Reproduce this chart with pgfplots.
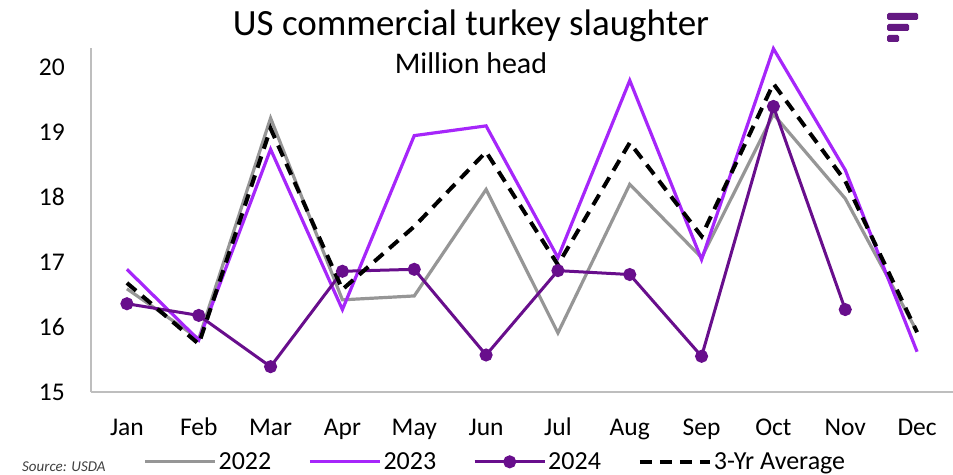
\documentclass[border=0pt]{standalone}
\usepackage{pgfplots}
\pgfplotsset{compat=1.18}
\usepackage{fontspec}
\setmainfont{Carlito}
\definecolor{c22}{RGB}{150,150,150}
\definecolor{c23}{RGB}{166,38,250}
\definecolor{c24}{RGB}{104,14,140}
\definecolor{logo}{RGB}{100,25,130}
\definecolor{axgray}{RGB}{190,190,190}
\begin{document}
\begin{tikzpicture}[x=1bp,y=1bp]
\begin{axis}[
  at={(91bp,83bp)}, anchor=south west,
  width=862bp, height=344bp, scale only axis,
  xmin=-0.5, xmax=11.5, ymin=15, ymax=20.3,
  clip=false,
  axis x line*=bottom, axis y line*=left,
  axis line style={draw=axgray, line width=1.5bp, -},
  xtick={0,...,11},
  xticklabels={Jan,Feb,Mar,Apr,May,Jun,Jul,Aug,Sep,Oct,Nov,Dec},
  ytick={15,16,17,18,19,20},
  major tick length=0pt, tick style={draw=none},
  /pgf/number format/assume math mode=true,
  xticklabel style={font=\fontsize{25.5bp}{28bp}\selectfont, anchor=base, inner sep=0pt, yshift=-43bp},
  yticklabel style={font=\fontsize{25.5bp}{28bp}\selectfont, anchor=east, inner sep=0pt, xshift=-26bp},
  legend columns=4,
  legend cell align=left,
  legend style={at={(0.469,-0.203)}, anchor=center, draw=none, fill=none,
    font=\fontsize{26bp}{28bp}\selectfont,
    /tikz/every even column/.append style={column sep=35bp}},
  legend image code/.code={\draw[mark repeat=2,mark phase=2,#1] plot coordinates {(0bp,0bp) (35bp,0bp) (70bp,0bp)};},
]
\addplot[c22, line width=3.2bp, no markers] coordinates {
(0,16.59) (1,15.82) (2,19.22) (3,16.42) (4,16.48) (5,18.12) (6,15.91) (7,18.20) (8,17.07) (9,19.28) (10,17.98) (11,15.93)};
\addlegendentry{2022}
\addplot[c23, line width=3.2bp, no markers] coordinates {
(0,16.89) (1,15.80) (2,18.74) (3,16.27) (4,18.95) (5,19.10) (6,17.07) (7,19.80) (8,17.04) (9,20.29) (10,18.42) (11,15.62)};
\addlegendentry{2023}
\addplot[c24, line width=3bp, mark=*, mark size=5bp, mark options={fill=c24, draw=c24}] coordinates {
(0,16.36) (1,16.18) (2,15.39) (3,16.86) (4,16.89) (5,15.57) (6,16.87) (7,16.81) (8,15.55) (9,19.40) (10,16.27)};
\addlegendentry{2024}
\addplot[black, line width=4bp, dash pattern=on 12bp off 8bp, no markers] coordinates {
(0,16.68) (1,15.74) (2,19.06) (3,16.58) (4,17.55) (5,18.70) (6,16.96) (7,18.84) (8,17.40) (9,19.75) (10,18.25) (11,15.92)};
\addlegendentry{3-Yr Average}
\end{axis}
\node[anchor=base, inner sep=0pt, font=\fontsize{37bp}{40bp}\selectfont] at (471bp,439bp) {US commercial turkey slaughter};
\node[anchor=base, inner sep=0pt, font=\fontsize{30bp}{32bp}\selectfont] at (471bp,401bp) {Million head};
\node[anchor=base west, inner sep=0pt, font=\fontsize{15bp}{16bp}\selectfont\itshape, text=black!75] at (22bp,3.5bp) {Source: USDA};
\fill[logo, rounded corners=1.5bp] (887bp,455bp) rectangle (918bp,462bp);
\fill[logo, rounded corners=1.5bp] (887bp,444bp) rectangle (909bp,451bp);
\fill[logo, rounded corners=1.5bp] (887bp,433bp) rectangle (899bp,440bp);
\pgfresetboundingbox
\useasboundingbox (0,0) rectangle (953bp,475bp);
\end{tikzpicture}
\end{document}
